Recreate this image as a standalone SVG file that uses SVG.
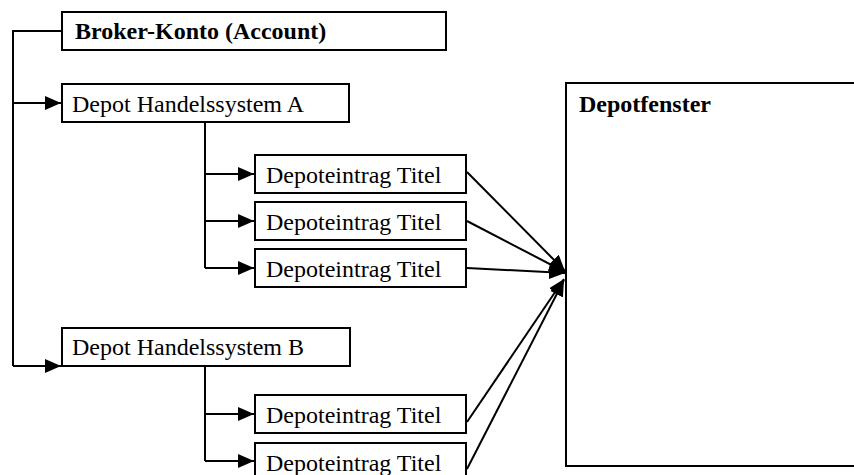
<svg xmlns="http://www.w3.org/2000/svg" width="854" height="475" viewBox="0 0 854 475">
<style>
.box{fill:#fff;stroke:#000;stroke-width:2}
.t{font-family:"Liberation Serif","Times New Roman",serif;font-size:24px;fill:#000}
.b{font-weight:bold}
.c{fill:none;stroke:#000;stroke-width:2}
</style>
<defs>
<marker id="ah" markerUnits="userSpaceOnUse" markerWidth="17" markerHeight="14" refX="16" refY="7" orient="auto">
<path d="M0,0 L16,7 L0,14 z" fill="#000"/>
</marker>
</defs>
<rect width="854" height="475" fill="#fff"/>
<g id="connectors">
<path class="c" d="M62,31 H13 V366"/>
<path class="c" d="M13,103 H61" marker-end="url(#ah)"/>
<path class="c" d="M13,366 H61" marker-end="url(#ah)"/>
<path class="c" d="M205,122 V268"/>
<path class="c" d="M205,174 H254" marker-end="url(#ah)"/>
<path class="c" d="M205,221 H254" marker-end="url(#ah)"/>
<path class="c" d="M205,268 H254" marker-end="url(#ah)"/>
<path class="c" d="M205,366 V461"/>
<path class="c" d="M205,414 H254" marker-end="url(#ah)"/>
<path class="c" d="M205,461 H254" marker-end="url(#ah)"/>
<path class="c" d="M467,172 L565,271" marker-end="url(#ah)"/>
<path class="c" d="M467,221 L565,272" marker-end="url(#ah)"/>
<path class="c" d="M467,268 L565,273" marker-end="url(#ah)"/>
<path class="c" d="M467,422 L564,279" marker-end="url(#ah)"/>
<path class="c" d="M467,469 L564,280" marker-end="url(#ah)"/>
</g>
<g id="broker">
<rect class="box" x="62" y="12" width="384" height="38"/>
<text class="t b" x="75" y="39">Broker-Konto (Account)</text>
</g>
<g id="depotA">
<rect class="box" x="62" y="84" width="287" height="38"/>
<text class="t" x="72" y="112">Depot Handelssystem A</text>
</g>
<g id="entryA1">
<rect class="box" x="255" y="155" width="211" height="38"/>
<text class="t" x="266" y="183">Depoteintrag Titel</text>
</g>
<g id="entryA2">
<rect class="box" x="255" y="202" width="211" height="38"/>
<text class="t" x="266" y="230">Depoteintrag Titel</text>
</g>
<g id="entryA3">
<rect class="box" x="255" y="249" width="211" height="38"/>
<text class="t" x="266" y="277">Depoteintrag Titel</text>
</g>
<g id="depotB">
<rect class="box" x="62" y="328" width="288" height="38"/>
<text class="t" x="72" y="355">Depot Handelssystem B</text>
</g>
<g id="entryB1">
<rect class="box" x="255" y="395" width="211" height="38"/>
<text class="t" x="266" y="423">Depoteintrag Titel</text>
</g>
<g id="entryB2">
<rect class="box" x="255" y="443" width="211" height="38"/>
<text class="t" x="266" y="471">Depoteintrag Titel</text>
</g>
<g id="depotfenster">
<rect class="box" x="566" y="83" width="292" height="383"/>
<text class="t b" x="579" y="112">Depotfenster</text>
</g>
</svg>
